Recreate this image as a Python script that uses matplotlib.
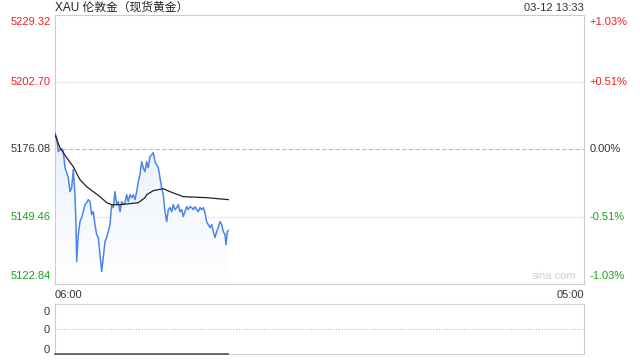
import numpy as np
import matplotlib
matplotlib.use("Agg")
from matplotlib import pyplot as plt
from matplotlib.colors import LinearSegmentedColormap

plt.rcParams['font.family'] = ['Liberation Sans', 'Noto Sans CJK SC', 'DejaVu Sans']

# minutes after 06:00 and price
price_t = [0, 4.4, 8.6, 13.0, 17.5, 21.7, 26.1, 30.5, 34.7, 39.1, 43.6, 47.7, 52.2, 54.8,
           56.6, 60.8, 65.2, 69.7, 73.8, 78.3, 82.7, 86.9, 91.3, 95.7, 99.9, 104.3, 108.8,
           113.0, 117.4, 121.8, 126.0, 130.4, 134.9, 139.0, 143.5, 147.9, 152.1, 156.5,
           161.0, 165.1, 169.6, 174.0, 178.2, 182.6, 187.0, 191.2, 195.7, 200.1, 204.3,
           208.7, 213.1, 217.3, 221.7, 226.2, 230.3, 234.8, 239.2, 243.4, 247.8, 252.3,
           256.4, 260.9, 265.3, 269.5, 273.9, 278.3, 282.5, 287.0, 291.4, 295.6, 300.0,
           304.4, 308.6, 313.0, 317.5, 321.6, 326.1, 330.5, 334.7, 339.1, 343.6, 347.7,
           352.2, 356.6, 360.8, 365.2, 369.6, 373.8, 378.3, 382.7, 386.9, 391.3, 395.7,
           399.9, 404.3, 408.8, 412.9, 417.4, 421.8, 426.0, 430.4, 434.9, 439.0, 443.5,
           446.1, 449.5, 452.1]
price = [5182.47, 5180.62, 5175.21, 5175.88, 5176.28, 5175.21, 5168.79, 5166.81, 5164.84,
         5159.32, 5160.90, 5168.00, 5158.14, 5146.31, 5131.71, 5142.36, 5147.49, 5149.07,
         5151.43, 5154.19, 5154.98, 5156.17, 5155.38, 5150.25, 5151.43, 5146.31, 5142.36,
         5141.18, 5134.48, 5127.77, 5133.29, 5139.60, 5141.18, 5143.55, 5146.31, 5154.19,
         5153.01, 5159.32, 5154.19, 5155.38, 5151.43, 5155.38, 5154.19, 5154.98, 5158.14,
         5155.38, 5158.14, 5156.95, 5158.14, 5156.17, 5159.32, 5163.27, 5166.03, 5171.15,
         5168.79, 5167.21, 5171.15, 5168.79, 5173.13, 5173.91, 5174.70, 5171.15, 5169.97,
         5168.79, 5164.84, 5160.90, 5158.14, 5151.43, 5147.49, 5152.22, 5153.01, 5151.43,
         5154.19, 5152.22, 5153.01, 5154.19, 5151.43, 5152.22, 5149.46, 5151.43, 5153.40,
         5152.22, 5153.40, 5153.01, 5152.22, 5153.40, 5152.22, 5151.43, 5153.01, 5152.22,
         5153.01, 5151.04, 5147.49, 5146.31, 5145.13, 5146.31, 5143.55, 5141.18, 5143.55,
         5145.13, 5147.49, 5146.31, 5143.55, 5142.36, 5138.42, 5143.55, 5143.94]

avg_t = [0, 13.0, 30.5, 47.7, 65.2, 82.7, 99.9, 117.4, 134.9, 147.9, 169.6, 195.7, 217.3,
         234.8, 239.2, 256.4, 282.5, 300.0, 334.7, 395.7, 452.1]
avg_price = [5181.80, 5176.68, 5172.73, 5169.18, 5164.05, 5161.29, 5159.32, 5157.35, 5154.98,
             5154.19, 5154.19, 5154.59, 5154.98, 5156.95, 5158.14, 5159.71, 5160.50, 5159.32,
             5157.35, 5156.95, 5156.17]

prev_close = 5176.08
left_ticks = [5122.84, 5149.46, 5176.08, 5202.70, 5229.32]
right_labels = ['-1.03%', '-0.51%', '0.00%', '+0.51%', '+1.03%']
tick_colors = ['#1aa01a', '#1aa01a', '#333333', '#f02020', '#f02020']
x_ticks = [0, 1380]
x_labels = ['06:00', '05:00']
volume = [0] * len(price_t)

grid_c = '#cccccc'
fig = plt.figure(figsize=(6.4, 3.6), dpi=100)
ax = fig.add_axes([0.0859, 0.2111, 0.8266, 0.7486])
vax = fig.add_axes([0.0859, 0.0167, 0.8266, 0.1389])

ymin, ymax = left_ticks[0], left_ticks[-1]

# gradient fill under the price
cmap = LinearSegmentedColormap.from_list('fill', ['#ffffff', '#d8e5fa'])
grad = np.linspace(0, 1, 256).reshape(-1, 1)
img = ax.imshow(grad, cmap=cmap, aspect='auto', origin='lower',
                extent=[price_t[0], price_t[-1], ymin, ymax], zorder=1)
poly = ax.fill_between(price_t, price, ymin, color='none', lw=0)
img.set_clip_path(poly.get_paths()[0], transform=ax.transData)
ax.set_xlim(x_ticks[0], x_ticks[-1])
ax.set_ylim(ymin, ymax)

ax.plot(price_t, price, color='#4a86e8', lw=1.1, zorder=3)
ax.plot(avg_t, avg_price, color='#222222', lw=0.9, zorder=4)

ax.axhline(prev_close, color='#bbbbbb', lw=0.8, ls=(0, (4, 2)), zorder=0)
for v in (left_ticks[1], left_ticks[3]):
    ax.axhline(v, color='#cccccc', lw=0.8, ls=(0, (1, 1.5)), zorder=0)

for s in ax.spines.values():
    s.set_color(grid_c)
    s.set_linewidth(0.8)
ax.tick_params(length=0)
ax.set_yticks([])
ax.set_xticks(x_ticks)
ax.set_xticklabels(x_labels, fontsize=8, color='#333333')
ax.tick_params(axis='x', pad=4)
xt = ax.get_xticklabels()
xt[0].set_ha('left')
xt[1].set_ha('right')

for i, (v, lab, c) in enumerate(zip(left_ticks, right_labels, tick_colors)):
    va = 'bottom' if i == 0 else ('top' if i == len(left_ticks) - 1 else 'center')
    off = 2 if i == 0 else (-2 if i == len(left_ticks) - 1 else 0)
    ax.annotate(f'{v:.2f}', (0, v), xycoords=('axes fraction', 'data'),
                xytext=(-3, off), textcoords='offset points',
                ha='right', va=va, fontsize=8, color=c)
    ax.annotate(lab, (1, v), xycoords=('axes fraction', 'data'),
                xytext=(4, off), textcoords='offset points',
                ha='left', va=va, fontsize=8, color=c)

fig.text(0.0859, 1 - 8 / 360, 'XAU 伦敦金（现货黄金）',
         fontsize=8.5, color='#222222', ha='left', va='center')
fig.text(0.9125, 1 - 8 / 360, '03-12 13:33',
         fontsize=8, color='#333333', ha='right', va='center')
ax.text(0.985, 0.012, 'sina.com', transform=ax.transAxes,
        fontsize=8, color='#cfcfcf', ha='right', va='bottom')

# volume panel
vax.set_xlim(x_ticks[0], x_ticks[-1])
vax.set_ylim(0, 1)
vax.plot(price_t, volume, color='#555555', lw=1.2, zorder=3, clip_on=False)
vax.axhline(0.5, color='#bbbbbb', lw=0.8, ls=(0, (1, 1.5)))
vax.spines['top'].set_linestyle((0, (1, 1.5)))
for s in vax.spines.values():
    s.set_color(grid_c)
    s.set_linewidth(0.8)
vax.set_xticks([])
vax.set_yticks([0.1, 0.5, 0.86])
vax.set_yticklabels(['0', '0', '0'], fontsize=8, color='#333333')
vax.tick_params(length=0, pad=4)

fig.savefig('out.png', dpi=100)
